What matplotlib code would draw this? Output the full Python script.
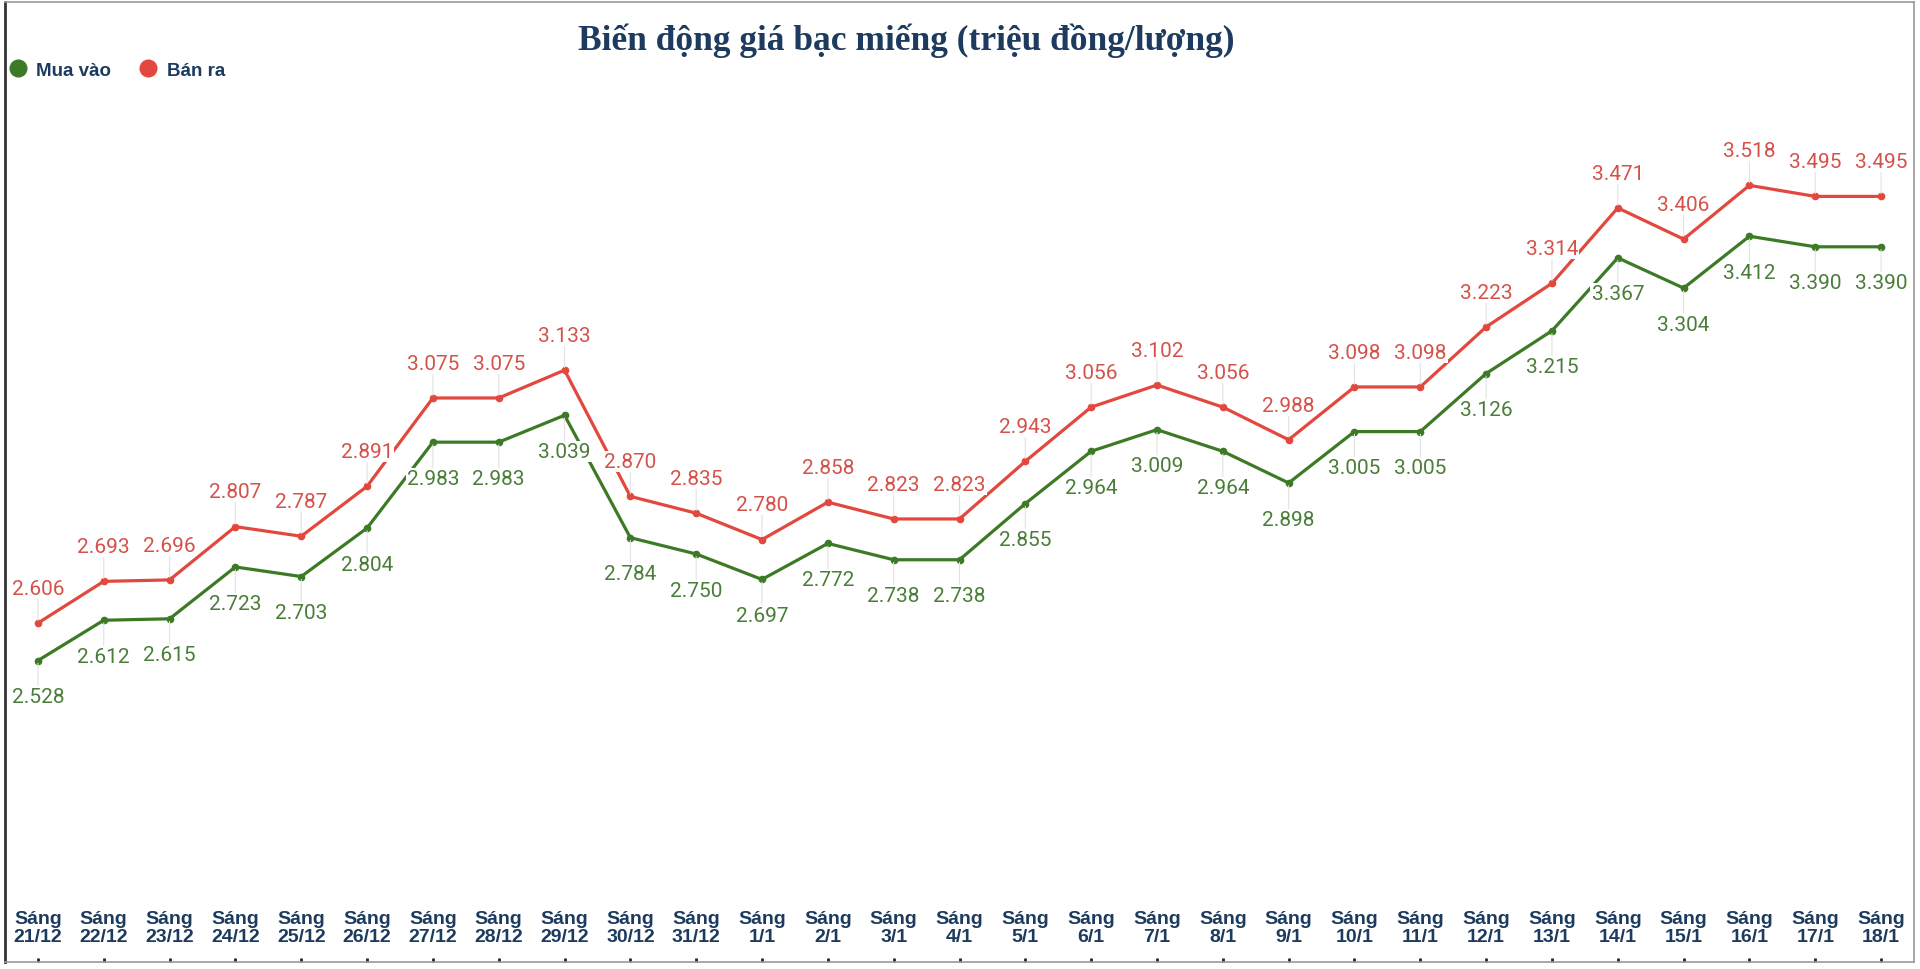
import numpy as np
import matplotlib
matplotlib.use("Agg")
import matplotlib.pyplot as plt
from matplotlib.lines import Line2D

# data
dates = ["21/12", "22/12", "23/12", "24/12", "25/12", "26/12", "27/12", "28/12",
         "29/12", "30/12", "31/12", "1/1", "2/1", "3/1", "4/1", "5/1", "6/1",
         "7/1", "8/1", "9/1", "10/1", "11/1", "12/1", "13/1", "14/1", "15/1",
         "16/1", "17/1", "18/1"]
mua_vao = [2.528, 2.612, 2.615, 2.723, 2.703, 2.804, 2.983, 2.983, 3.039,
           2.784, 2.750, 2.697, 2.772, 2.738, 2.738, 2.855, 2.964, 3.009,
           2.964, 2.898, 3.005, 3.005, 3.126, 3.215, 3.367, 3.304, 3.412,
           3.390, 3.390]
ban_ra = [2.606, 2.693, 2.696, 2.807, 2.787, 2.891, 3.075, 3.075, 3.133,
          2.870, 2.835, 2.780, 2.858, 2.823, 2.823, 2.943, 3.056, 3.102,
          3.056, 2.988, 3.098, 3.098, 3.223, 3.314, 3.471, 3.406, 3.518,
          3.495, 3.495]
labels = ["Sáng\n" + d for d in dates]

GREEN = "#3c7a26"
RED = "#e2483d"
GREEN_TXT = "#4a7d38"
RED_TXT = "#d4524a"
NAVY = "#1c3b5e"

fig = plt.figure(figsize=(19.2, 9.7), dpi=100)
ax = fig.add_axes([5 / 1920, 7 / 970, 1909 / 1920, 960 / 970])

x = np.arange(len(dates))
ax.plot(x, mua_vao, color=GREEN, lw=2.3, marker="o", ms=4.5, zorder=3)
ax.plot(x, ban_ra, color=RED, lw=2.3, marker="o", ms=4.5, zorder=3)

lab_font = ["Roboto", "DejaVu Sans"]
for xi, v in zip(x, ban_ra):
    ax.annotate(f"{v:.3f}", (xi, v), xytext=(0, 25), textcoords="offset points",
                ha="center", va="center", fontsize=15, color=RED_TXT,
                family=lab_font, zorder=5,
                bbox=dict(boxstyle="square,pad=0.05", fc="white", ec="none"),
                arrowprops=dict(arrowstyle="-", color="#e2e2e2", lw=0.8,
                                shrinkA=0, shrinkB=2))
for xi, v in zip(x, mua_vao):
    ax.annotate(f"{v:.3f}", (xi, v), xytext=(0, -26), textcoords="offset points",
                ha="center", va="center", fontsize=15, color=GREEN_TXT,
                family=lab_font, zorder=5,
                bbox=dict(boxstyle="square,pad=0.05", fc="white", ec="none"),
                arrowprops=dict(arrowstyle="-", color="#e2e2e2", lw=0.8,
                                shrinkA=0, shrinkB=2))

ax.set_xlim(-0.5, 28.5)
ax.set_ylim(1.9, 3.9)
ax.set_yticks([])
ax.set_xticks(x)
ax.set_xticklabels(labels, fontsize=14, fontweight="bold", color=NAVY,
                   family=["Liberation Sans", "DejaVu Sans"],
                   va="bottom", linespacing=1.12)
ax.tick_params(axis="x", direction="in", length=3, width=2, color="#222222",
               pad=-12)

for side in ["top", "right", "bottom"]:
    ax.spines[side].set_color("#9a9a9a")
    ax.spines[side].set_linewidth(1.2)
ax.spines["left"].set_color("#333333")
ax.spines["left"].set_linewidth(2)

fig.text(906 / 1920, 1 - 41 / 970, "Biến động giá bạc miếng (triệu đồng/lượng)",
         ha="center", va="center", fontsize=25.5, fontweight="bold", color=NAVY,
         family=["Liberation Serif", "DejaVu Serif"])

handles = [Line2D([], [], ls="none", marker="o", ms=12, color=GREEN),
           Line2D([], [], ls="none", marker="o", ms=12, color=RED)]
leg = ax.legend(handles, ["Mua vào", "Bán ra"], loc="center left",
                bbox_to_anchor=(10 / 1920, 1 - 71 / 970),
                bbox_transform=fig.transFigure, ncol=2, frameon=False,
                borderaxespad=0, borderpad=0, handlelength=0.8,
                handletextpad=0.6, columnspacing=1.55,
                prop={"family": ["Liberation Sans", "DejaVu Sans"],
                      "weight": "bold", "size": 13.5})
for t in leg.get_texts():
    t.set_color(NAVY)

fig.savefig("out.png", dpi=100)
